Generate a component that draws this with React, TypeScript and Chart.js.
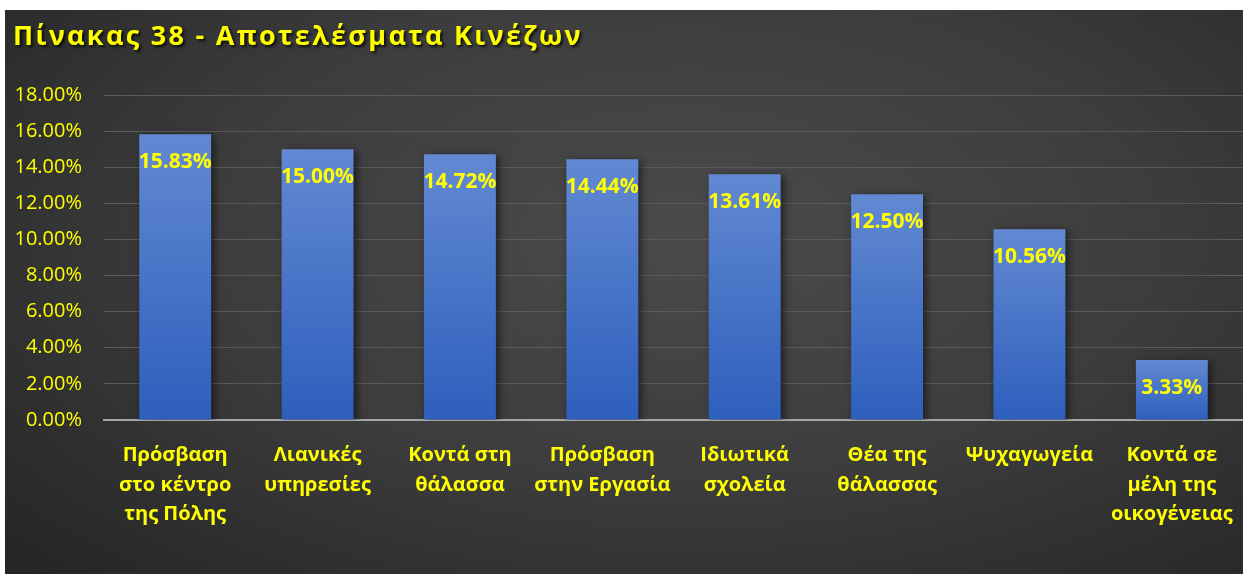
import React, { useEffect, useRef } from "react";
import { Chart, registerables } from "chart.js";

Chart.register(...registerables);

const title = "Πίνακας 38 - Αποτελέσματα Κινέζων";
const categories: string[][] = [
  ["Πρόσβαση", "στο κέντρο", "της Πόλης"],
  ["Λιανικές", "υπηρεσίες"],
  ["Κοντά στη", "θάλασσα"],
  ["Πρόσβαση", "στην Εργασία"],
  ["Ιδιωτικά", "σχολεία"],
  ["Θέα της", "θάλασσας"],
  ["Ψυχαγωγεία"],
  ["Κοντά σε", "μέλη της", "οικογένειας"],
];
const values: number[] = [15.83, 15.0, 14.72, 14.44, 13.61, 12.5, 10.56, 3.33];
const yMin = 0;
const yMax = 18;
const yStep = 2;

const FONT = "'Open Sans', 'Noto Sans', sans-serif";
const YELLOW = "#ffff00";

export default function App() {
  const ref = useRef<HTMLCanvasElement | null>(null);

  useEffect(() => {
    if (!ref.current) return;

    const titlePlugin = {
      id: "customTitle",
      afterDraw(chart: any) {
        const ctx = chart.ctx;
        ctx.save();
        ctx.font = `bold 27px ${FONT}`;
        (ctx as any).letterSpacing = "2.3px";
        ctx.fillStyle = YELLOW;
        ctx.textAlign = "left";
        ctx.textBaseline = "alphabetic";
        ctx.shadowColor = "rgba(0,0,0,0.8)";
        ctx.shadowBlur = 3;
        ctx.shadowOffsetX = 2;
        ctx.shadowOffsetY = 2;
        ctx.fillText(title, 8, 35);
        ctx.restore();
      },
    };

    const shadowPlugin = {
      id: "barShadow",
      beforeDatasetDraw(chart: any) {
        const ctx = chart.ctx;
        ctx.save();
        ctx.shadowColor = "rgba(0,0,0,0.55)";
        ctx.shadowBlur = 8;
        ctx.shadowOffsetX = 3;
        ctx.shadowOffsetY = 2;
      },
      afterDatasetDraw(chart: any) {
        chart.ctx.restore();
      },
    };

    const labelPlugin = {
      id: "barLabels",
      afterDatasetsDraw(chart: any) {
        const ctx = chart.ctx;
        const meta = chart.getDatasetMeta(0);
        ctx.save();
        ctx.font = `bold 21px ${FONT}`;
        ctx.fillStyle = YELLOW;
        ctx.textAlign = "center";
        ctx.textBaseline = "middle";
        meta.data.forEach((bar: any, i: number) => {
          ctx.fillText(values[i].toFixed(2) + "%", bar.x, bar.y + 28);
        });
        ctx.restore();
      },
    };

    const chart = new Chart(ref.current, {
      type: "bar",
      data: {
        labels: categories,
        datasets: [
          {
            data: values,
            backgroundColor: (c: any) => {
              const chartObj = c.chart;
              const ys = chartObj.scales?.y;
              if (!ys || c.parsed == null) return "#4472c4";
              const top = ys.getPixelForValue(c.parsed.y);
              const bottom = ys.getPixelForValue(0);
              if (!isFinite(top) || !isFinite(bottom) || top === bottom) return "#4472c4";
              const g = chartObj.ctx.createLinearGradient(0, top, 0, bottom);
              g.addColorStop(0, "#6289d2");
              g.addColorStop(1, "#2e5fbd");
              return g;
            },
            borderWidth: 0,
            barPercentage: 0.505,
            categoryPercentage: 1,
          },
        ],
      },
      options: {
        responsive: true,
        maintainAspectRatio: false,
        animation: false,
        layout: { padding: { top: 85, left: 0, right: 0, bottom: 0 } },
        plugins: {
          legend: { display: false },
          title: { display: false },
          tooltip: { enabled: false },
        },
        scales: {
          x: {
            grid: { display: false, drawTicks: false },
            border: { display: true, color: "#a6a6a6", width: 2 },
            ticks: {
              color: YELLOW,
              font: { family: FONT, size: 20, weight: "bold", lineHeight: 1.47 },
              padding: 21,
              maxRotation: 0,
              autoSkip: false,
            },
            afterFit: (s: any) => {
              s.height = 154;
              s.paddingLeft = 0;
              s.paddingRight = 0;
            },
          },
          y: {
            min: yMin,
            max: yMax,
            grid: { color: "#5a5a5a", lineWidth: 1, drawTicks: false },
            border: { display: false },
            ticks: {
              stepSize: yStep,
              color: YELLOW,
              font: { family: FONT, size: 20 },
              padding: 22,
              callback: (v: any) => Number(v).toFixed(2) + "%",
            },
            afterFit: (s: any) => {
              s.width = 99;
            },
          },
        },
      },
      plugins: [shadowPlugin, labelPlugin, titlePlugin],
    } as any);

    return () => chart.destroy();
  }, []);

  return (
    <div
      style={{
        position: "fixed",
        left: 0,
        top: 0,
        width: 1243,
        height: 574,
        background: "#ffffff",
        overflow: "hidden",
      }}
    >
      <div
        style={{
          position: "absolute",
          left: 5,
          top: 10,
          width: 1238,
          height: 564,
          background:
            "radial-gradient(ellipse 75% 85% at 55% 40%, #4b4b4b 0%, #3d3d3d 50%, #252525 100%)",
        }}
      >
        <canvas ref={ref} />
      </div>
    </div>
  );
}
